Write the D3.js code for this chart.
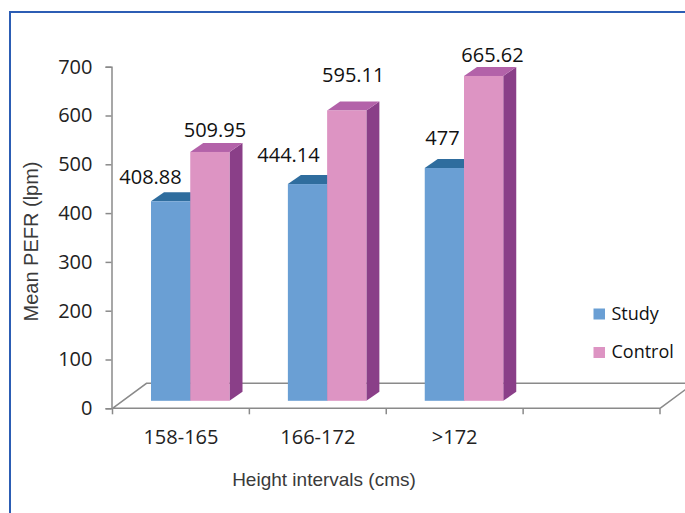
<!DOCTYPE html>
<html>
<head>
<meta charset="utf-8">
<script src="https://cdn.jsdelivr.net/npm/d3@7"></script>
<style>
  html, body { margin: 0; padding: 0; background: #fff; }
  svg { display: block; }
</style>
</head>
<body>
<svg id="chart" width="685" height="513"></svg>
<script>
// ---- data ----
const categories = ["158-165", "166-172", ">172", ""];
const seriesNames = ["Study", "Control"];
const studyValues = [408.88, 444.14, 477];
const controlValues = [509.95, 595.11, 665.62];
const yTickValues = [0, 100, 200, 300, 400, 500, 600, 700];
const yTitle = "Mean PEFR (lpm)";
const xTitle = "Height intervals (cms)";

// ---- layout ----
const svg = d3.select("#chart");
const tickFont = "'Open Sans', 'Noto Sans', sans-serif";
const titleFont = "'Liberation Sans', Arial, sans-serif";

const plotLeft = 112.5, plotRight = 660;
const y = d3.scaleLinear().domain([0, 700]).range([408.3, 66.7]);
const x = d3.scaleBand().domain(categories).range([plotLeft, plotRight]).padding(0);
const inner = d3.scaleBand().domain(seriesNames).range([38.5, 117]).padding(0);

const barLift = 7.5;            // bars stand a little way back on the floor
const depth = { dx: 13, dy: -9 }; // bar depth
const floorDepth = { dx: 34, dy: -25 };

const colors = {
  Study:   { front: "#6A9FD4", top: "#2F6D9E", side: "#2A5A85" },
  Control: { front: "#DD94C3", top: "#B362A9", side: "#8A3F88" }
};

// label nudges, per series and group: [horizontal shift, gap above the bar top]
const labelNudge = {
  Study:   [[-26.6, 8], [-25.5, 13.4], [-8.4, 14]],
  Control: [[-1.4, 5.6], [0, 19], [2.4, 5.3]]
};

// frame
svg.append("rect")
  .attr("x", 10).attr("y", 12)
  .attr("width", 700).attr("height", 520)
  .attr("fill", "none")
  .attr("stroke", "#2C5DB4")
  .attr("stroke-width", 2);

// floor
const y0 = y(0);
const floor = svg.append("g").attr("fill", "none").attr("stroke", "#8a8a8a").attr("stroke-width", 1.5);
floor.append("path")
  .attr("d", `M${plotLeft},${y0}L${plotRight},${y0}` +
             `M${plotLeft},${y0}L${plotLeft + floorDepth.dx},${y0 + floorDepth.dy}` +
             `L${plotRight + floorDepth.dx},${y0 + floorDepth.dy}L${plotRight},${y0}`);

// x ticks at category boundaries
const edges = categories.map(c => x(c)).concat([x.range()[1]]);
floor.selectAll("line.xt").data(edges).join("line")
  .attr("class", "xt")
  .attr("x1", d => d).attr("x2", d => d)
  .attr("y1", y0).attr("y2", y0 + 6);

// y axis
const yAxis = svg.append("g")
  .attr("transform", `translate(111.5,0)`)
  .call(d3.axisLeft(y).tickValues(yTickValues).tickSize(6).tickSizeOuter(6).tickPadding(13));
yAxis.select(".domain").attr("stroke", "#8a8a8a").attr("stroke-width", 1.5);
yAxis.selectAll(".tick line").attr("stroke", "#8a8a8a").attr("stroke-width", 1.5);
yAxis.selectAll(".tick text")
  .attr("font-family", tickFont).attr("font-size", 20).attr("fill", "#222");

// category labels
svg.selectAll("text.cat").data(categories).join("text")
  .attr("class", "cat")
  .attr("x", d => x(d) + x.bandwidth() / 2)
  .attr("y", 444.3)
  .attr("text-anchor", "middle")
  .attr("font-family", tickFont).attr("font-size", 20).attr("fill", "#222")
  .text(d => d);

// bars
const valuesBySeries = { Study: studyValues, Control: controlValues };
const bars = svg.append("g");
const labelData = [];
categories.forEach((cat, i) => {
  seriesNames.forEach(s => {
    const v = valuesBySeries[s][i];
    if (v === undefined) return;
    const w = inner.bandwidth();
    const bx = x(cat) + inner(s);
    const yt = y(v) - barLift;
    const yb = y(0) - barLift;
    const c = colors[s];
    const g = bars.append("g");
    // side face
    g.append("polygon")
      .attr("points", [[bx + w, yt], [bx + w + depth.dx, yt + depth.dy],
                       [bx + w + depth.dx, yb + depth.dy], [bx + w, yb]].join(" "))
      .attr("fill", c.side);
    // top face
    g.append("polygon")
      .attr("points", [[bx, yt], [bx + w, yt],
                       [bx + w + depth.dx, yt + depth.dy], [bx + depth.dx, yt + depth.dy]].join(" "))
      .attr("fill", c.top);
    // front face
    g.append("rect")
      .attr("x", bx).attr("y", yt)
      .attr("width", w).attr("height", yb - yt)
      .attr("fill", c.front);
    const nudge = labelNudge[s][i];
    labelData.push({
      v,
      x: bx + w / 2 + depth.dx / 2 + nudge[0],
      y: yt + depth.dy - nudge[1]
    });
  });
});

// value labels
svg.selectAll("text.val").data(labelData).join("text")
  .attr("class", "val")
  .attr("x", d => d.x).attr("y", d => d.y)
  .attr("text-anchor", "middle")
  .attr("font-family", tickFont).attr("font-size", 20).attr("fill", "#111")
  .text(d => d.v);

// legend
const legend = svg.append("g");
seriesNames.forEach((s, i) => {
  const ly = 308.5 + i * 38.5;
  legend.append("rect")
    .attr("x", 593.5).attr("y", ly)
    .attr("width", 11.5).attr("height", 11)
    .attr("fill", colors[s].front);
  legend.append("text")
    .attr("x", 611.5).attr("y", ly + 11)
    .attr("font-family", tickFont).attr("font-size", 18).attr("fill", "#111")
    .text(s);
});

// axis titles
svg.append("text")
  .attr("transform", "translate(37.5,241.5) rotate(-90)")
  .attr("text-anchor", "middle")
  .attr("font-family", titleFont).attr("font-size", 20).attr("fill", "#3a3a3a")
  .text(yTitle);
svg.append("text")
  .attr("x", 324).attr("y", 486)
  .attr("text-anchor", "middle")
  .attr("font-family", titleFont).attr("font-size", 19).attr("fill", "#3a3a3a")
  .text(xTitle);
</script>
</body>
</html>
